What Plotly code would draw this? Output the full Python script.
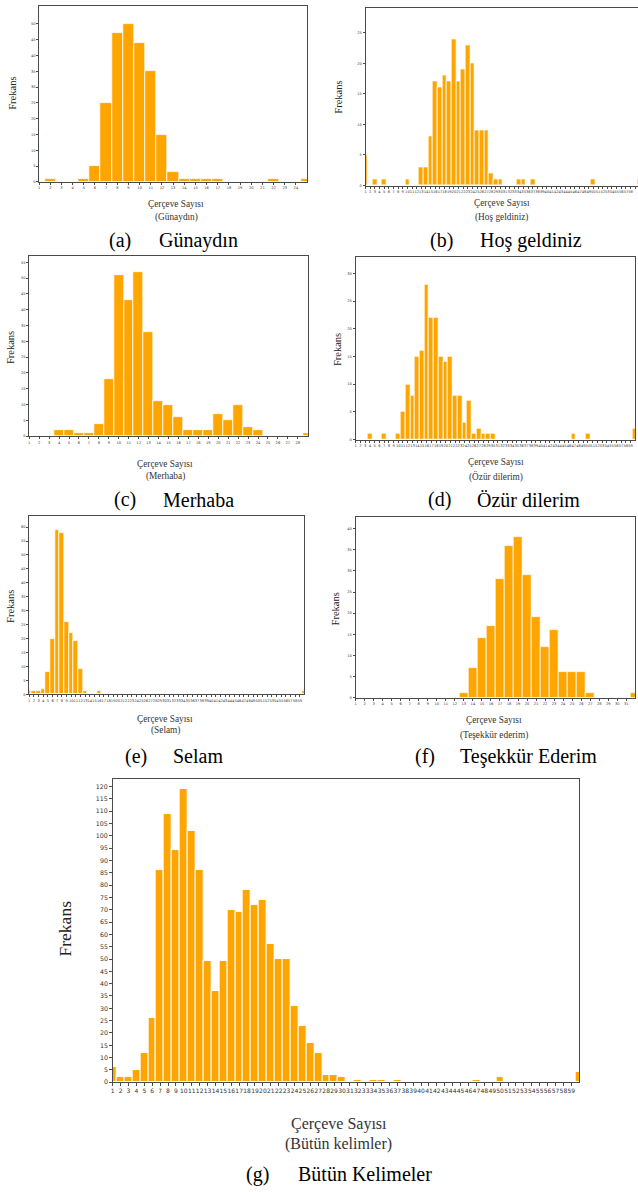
import plotly.graph_objects as go

W, H = 638, 1192

# ---------------- data ----------------
frames_a = [2, 5, 6, 7, 8, 9, 10, 11, 12, 13, 14, 15, 16, 17, 22, 25]
counts_a = [1, 1, 5, 25, 47, 50, 44, 35, 15, 3, 1, 1, 1, 1, 1, 1]

frames_b = [1, 3, 5, 10, 13, 14, 15, 16, 17, 18, 19, 20, 21, 22, 23, 24, 25, 26, 27, 28, 29, 30, 34, 35, 37, 50, 60]
counts_b = [5, 1, 1, 1, 3, 3, 8, 17, 16, 18, 17, 24, 17, 19, 23, 20, 9, 9, 9, 2, 1, 1, 1, 1, 1, 1, 1]

frames_c = [4, 5, 6, 7, 8, 9, 10, 11, 12, 13, 14, 15, 16, 17, 18, 19, 20, 21, 22, 23, 24, 29]
counts_c = [2, 2, 1, 1, 4, 18, 51, 43, 52, 33, 11, 10, 6, 2, 2, 2, 7, 5, 10, 3, 2, 1]

frames_d = [4, 7, 10, 11, 12, 13, 14, 15, 16, 17, 18, 19, 20, 21, 22, 23, 24, 25, 26, 27, 28, 29, 30, 47, 50, 60]
counts_d = [1, 1, 1, 5, 10, 8, 15, 16, 28, 22, 22, 15, 14, 15, 8, 8, 3, 7, 1, 2, 1, 1, 1, 1, 1, 2]

frames_e = [1, 2, 3, 4, 5, 6, 7, 8, 9, 10, 11, 12, 13, 16, 60]
counts_e = [1, 1, 1, 2, 8, 20, 59, 58, 26, 22, 19, 9, 1, 1, 1]

frames_f = [13, 14, 15, 16, 17, 18, 19, 20, 21, 22, 23, 24, 25, 26, 27, 32]
counts_f = [1, 7, 14, 17, 28, 36, 38, 29, 19, 12, 16, 6, 6, 6, 1, 1]

frames_g = [1, 2, 3, 4, 5, 6, 7, 8, 9, 10, 11, 12, 13, 14, 15, 16, 17, 18, 19, 20,
            21, 22, 23, 24, 25, 26, 27, 28, 29, 30, 32, 34, 35, 37, 47, 50, 60]
counts_g = [6, 2, 2, 5, 12, 26, 86, 109, 94, 119, 102, 86, 49, 37, 49, 70, 69, 78, 72, 74,
            56, 50, 50, 31, 23, 16, 12, 3, 3, 2, 1, 1, 1, 1, 1, 2, 4]

labels_sub = ["(Günaydın)", "(Hoş geldiniz)", "(Merhaba)", "(Özür dilerim)",
              "(Selam)", "(Teşekkür ederim)", "(Bütün kelimler)"]
caption_letters = ["(a)", "(b)", "(c)", "(d)", "(e)", "(f)", "(g)"]
caption_words = ["Günaydın", "Hoş geldiniz", "Merhaba", "Özür dilerim",
                 "Selam", "Teşekkür Ederim", "Bütün Kelimeler"]
x_title = "Çerçeve Sayısı"
y_title = "Frekans"

series = [(frames_a, counts_a), (frames_b, counts_b), (frames_c, counts_c),
          (frames_d, counts_d), (frames_e, counts_e), (frames_f, counts_f),
          (frames_g, counts_g)]

# ---------------- layout (pixel geometry) ----------------
geo = [
    # domain x px, domain y px, x range, n ticks, y range, y step, small?
    dict(dx=(37.3, 306), dy=(6, 182.3), xr=[1, 25], nt=24, yr=[0, 55.7], ymax=50),
    dict(dx=(364.7, 638), dy=(8.3, 186), xr=[1, 59.6], nt=59, yr=[0, 29], ymax=25),
    dict(dx=(27.3, 306.7), dy=(256.7, 437.3), xr=[1, 29], nt=28, yr=[0, 57], ymax=55),
    dict(dx=(354.7, 635.3), dy=(257.3, 440.7), xr=[1, 60], nt=59, yr=[0, 33], ymax=30),
    dict(dx=(27.3, 303.3), dy=(517.3, 696), xr=[1, 60], nt=59, yr=[0, 64], ymax=60),
    dict(dx=(354.7, 635.3), dy=(518.3, 699.3), xr=[1, 32], nt=31, yr=[0, 42.8], ymax=40),
    dict(dx=(111, 579), dy=(781, 1085), xr=[1, 60], nt=59, yr=[0, 123], ymax=120),
]

ann_pos = [
    # Frekans (x,y), titles center x, title y, sub y, caption letter x, word x, caption y
    dict(fx=11, fy=93, tx=175, ty=204.7, sy=218, cl=118, cw=197, cy=241),
    dict(fx=338, fy=97, tx=501.5, ty=204, sy=218, cl=441, cw=531, cy=241),
    dict(fx=8, fy=348, tx=164, ty=464.7, sy=478, cl=123, cw=197, cy=501),
    dict(fx=336, fy=350, tx=495.5, ty=463, sy=478, cl=439, cw=528, cy=501),
    dict(fx=8.5, fy=608, tx=164, ty=721, sy=732.7, cl=134, cw=197, cy=758),
    dict(fx=335, fy=610, tx=494, ty=722, sy=737.7, cl=424, cw=528, cy=758),
    dict(fx=63, fy=931, tx=338, ty=1127, sy=1147, cl=256, cw=364, cy=1177),
]

def px(x):
    return x / W

def py(y):
    return 1 - y / H

fig = go.Figure()
layout = dict(width=W, height=H, autosize=False,
              margin=dict(l=0, r=0, t=0, b=0),
              paper_bgcolor="white", plot_bgcolor="white",
              showlegend=False, bargap=0)
annotations = []
AX = "#4a4a4a"
serif = "Liberation Serif"

for i, ((xs, ys), g, a) in enumerate(zip(series, geo, ann_pos)):
    n = i + 1
    xa = "x" if n == 1 else f"x{n}"
    ya = "y" if n == 1 else f"y{n}"
    big = (i == 6)
    fig.add_trace(go.Bar(
        x=xs, y=ys, width=1.0, xaxis=xa, yaxis=ya,
        marker=dict(color="#FFA500", line=dict(color="white", width=1.0 if big else 0.8)),
        hoverinfo="x+y"))
    tfs = 6 if big else 3.6
    layout["xaxis" if n == 1 else f"xaxis{n}"] = dict(
        domain=[px(g["dx"][0]), px(g["dx"][1])], anchor=ya, range=g["xr"],
        tickvals=list(range(1, g["nt"] + 1)), ticktext=[str(k) for k in range(1, g["nt"] + 1)],
        tickangle=0, ticks="outside", ticklen=2.5 if big else 2, tickwidth=0.7, tickcolor=AX,
        tickfont=dict(family="DejaVu Sans", size=tfs, color="#333"),
        showgrid=False, zeroline=False, showline=True, linecolor=AX, linewidth=1,
        mirror=True, fixedrange=True)
    layout["yaxis" if n == 1 else f"yaxis{n}"] = dict(
        domain=[py(g["dy"][1]), py(g["dy"][0])], anchor=xa, range=g["yr"],
        tickvals=list(range(0, g["ymax"] + 1, 5)),
        ticks="outside", ticklen=2.5 if big else 2, tickwidth=0.7, tickcolor=AX,
        tickfont=dict(family="DejaVu Sans", size=6.3 if big else 3.6, color="#333"),
        showgrid=False, zeroline=False, showline=True, linecolor=AX, linewidth=1,
        mirror=(i != 1), fixedrange=True)

    tsz = 16 if big else 9.3
    annotations += [
        dict(x=px(a["fx"]), y=py(a["fy"]), xref="paper", yref="paper", text=y_title,
             textangle=-90, showarrow=False, xanchor="center", yanchor="middle",
             font=dict(family=serif, size=17.5 if big else 10.5, color="#222")),
        dict(x=px(a["tx"]), y=py(a["ty"]), xref="paper", yref="paper", text=x_title,
             showarrow=False, xanchor="center", yanchor="middle",
             font=dict(family=serif, size=tsz, color="#333")),
        dict(x=px(a["tx"]), y=py(a["sy"]), xref="paper", yref="paper", text=labels_sub[i],
             showarrow=False, xanchor="center", yanchor="middle",
             font=dict(family=serif, size=tsz, color="#333")),
        dict(x=px(a["cl"]), y=py(a["cy"]), xref="paper", yref="paper", text=caption_letters[i],
             showarrow=False, xanchor="center", yanchor="middle",
             font=dict(family=serif, size=20, color="black")),
        dict(x=px(a["cw"]), y=py(a["cy"]), xref="paper", yref="paper", text=caption_words[i],
             showarrow=False, xanchor="center", yanchor="middle",
             font=dict(family=serif, size=20, color="black")),
    ]

layout["annotations"] = annotations
fig.update_layout(**layout)

fig.write_html("out.html", config={"displayModeBar": False},
               post_script="document.body.style.margin='0';document.body.style.overflow='hidden';")
